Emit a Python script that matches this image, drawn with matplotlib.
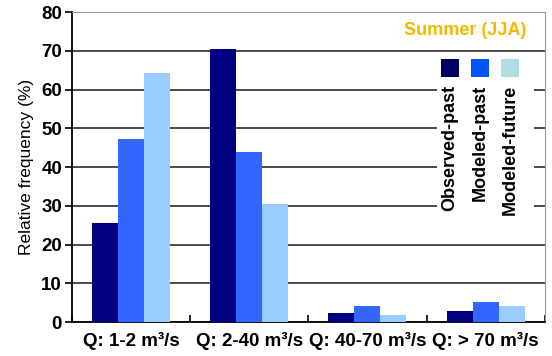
import matplotlib
matplotlib.use("Agg")
import matplotlib.pyplot as plt
import numpy as np
from matplotlib.patches import Rectangle

plt.rcParams['font.family'] = ['Liberation Sans', 'DejaVu Sans']

# discharge classes and relative frequencies (%) for summer
categories = ["Q: 1-2 m³/s", "Q: 2-40 m³/s", "Q: 40-70 m³/s", "Q: > 70 m³/s"]
observed_past = [25.5, 70.4, 2.4, 2.8]
modeled_past = [47.2, 43.9, 4.1, 5.1]
modeled_future = [64.4, 30.4, 1.8, 4.2]

series_names = ["Observed-past", "Modeled-past", "Modeled-future"]
bar_colors = ["#000080", "#3366ff", "#99ccff"]
legend_colors = ["#000066", "#0055ff", "#b0dde0"]

fig = plt.figure(figsize=(5.52, 3.56), dpi=100)
ax = fig.add_axes([0.130, 0.095, 0.857, 0.871])

x = np.arange(len(categories))
w = 0.22
for i, vals in enumerate([observed_past, modeled_past, modeled_future]):
    ax.bar(x + (i - 1) * w, vals, width=w, color=bar_colors[i], zorder=3)

ax.set_xlim(-0.5, len(categories) - 0.5)
ax.set_ylim(0, 80)
ax.set_yticks(range(0, 81, 10))
ax.yaxis.grid(True, color="#1a1a1a", linewidth=1.1, zorder=0)
ax.set_axisbelow(True)

# group separators as major ticks, category names on minor ticks
ax.set_xticks(np.arange(len(categories) + 1) - 0.5, minor=False)
ax.set_xticklabels([])
ax.set_xticks(x, minor=True)
ax.set_xticklabels(categories, minor=True, fontsize=13.5, fontweight="bold")
ax.tick_params(axis="x", which="minor", length=0, pad=7)
ax.tick_params(axis="x", which="major", length=5, width=1.2, direction="in")
ax.tick_params(axis="y", length=5, width=1.2, labelsize=13.5, pad=2)
for lbl in ax.get_yticklabels():
    lbl.set_fontweight("bold")

ax.spines["left"].set_linewidth(1.3)
ax.spines["bottom"].set_linewidth(1.3)
ax.spines["top"].set_color("#999999")
ax.spines["right"].set_color("#999999")

ax.set_ylabel("Relative frequency (%)", fontsize=12.5, labelpad=5)

ax.text(0.962, 0.94, "Summer (JJA)", transform=ax.transAxes, ha="right",
        va="center", color="#f5b800", fontsize=13, fontweight="bold")

# legend box with vertical labels
ax.add_patch(Rectangle((0.773, 0.33), 0.205, 0.53, transform=ax.transAxes,
                       facecolor="white", edgecolor="none", zorder=2))
legend_x = [0.8, 0.863, 0.926]
for i, name in enumerate(series_names):
    ax.add_patch(Rectangle((legend_x[i] - 0.019, 0.79), 0.038, 0.058,
                           transform=ax.transAxes, facecolor=legend_colors[i],
                           edgecolor="none", zorder=4))
    ax.text(legend_x[i], 0.765, name, transform=ax.transAxes, rotation=90,
            ha="center", va="top", fontsize=13, fontweight="bold", zorder=4)

fig.savefig("out.png", dpi=100)
